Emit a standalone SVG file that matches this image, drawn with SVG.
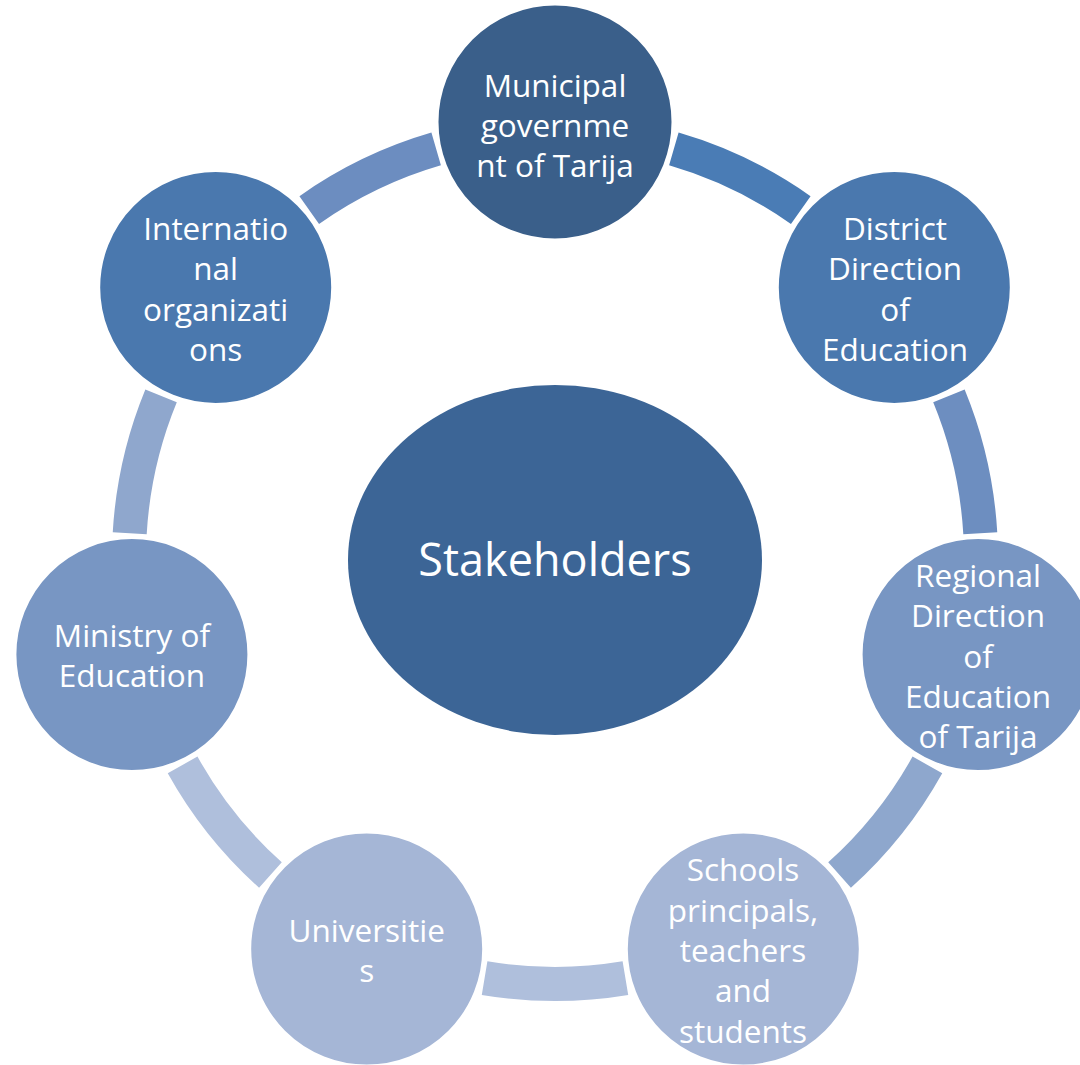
<svg xmlns="http://www.w3.org/2000/svg" width="1080" height="1065" viewBox="0 0 1080 1065">
  <style>
    .arc { fill: none; stroke-width: 34; stroke-linecap: butt; }
    .node { stroke: #FFFFFF; stroke-width: 3; }
    .lbl { font-family: "Open Sans", "Liberation Sans", sans-serif; font-size: 31.5px; fill: #FFFFFF; text-anchor: middle; }
    .center { font-family: "Open Sans", "Liberation Sans", sans-serif; font-size: 45px; fill: #FFFFFF; text-anchor: middle; }
  </style>
  <rect width="1080" height="1065" fill="#FFFFFF"/>
  <g id="connectors">
    <path class="arc" stroke="#4A7CB5" d="M673.85,148.92 A426,426 0 0 1 800.76,210.05"/>
    <path class="arc" stroke="#6D8EC0" d="M948.93,395.86 A426,426 0 0 1 980.28,533.16"/>
    <path class="arc" stroke="#8EA7CD" d="M927.40,764.87 A426,426 0 0 1 839.57,875.01"/>
    <path class="arc" stroke="#AFBFDC" d="M625.41,978.14 A426,426 0 0 1 484.59,978.14"/>
    <path class="arc" stroke="#AFBFDC" d="M270.43,875.01 A426,426 0 0 1 182.60,764.87"/>
    <path class="arc" stroke="#8FA7CD" d="M129.72,533.16 A426,426 0 0 1 161.07,395.86"/>
    <path class="arc" stroke="#6C8DC0" d="M309.24,210.05 A426,426 0 0 1 436.15,148.92"/>
  </g>
  <g id="stakeholders">
    <ellipse cx="555" cy="560" rx="207" ry="175" fill="#3C6596"/>
    <text class="center" x="555" y="576">Stakeholders</text>
  </g>
  <g id="municipal">
    <circle class="node" cx="555" cy="122" r="118" fill="#3A5F8A"/>
    <text class="lbl" x="555" y="96.7">Municipal</text>
    <text class="lbl" x="555" y="137">governme</text>
    <text class="lbl" x="555" y="177.3">nt of Tarija</text>
  </g>
  <g id="district">
    <circle class="node" cx="894.3" cy="287.4" r="117" fill="#4A78AE"/>
    <text class="lbl" x="895" y="240">District</text>
    <text class="lbl" x="895" y="280.3">Direction</text>
    <text class="lbl" x="895" y="320.6">of</text>
    <text class="lbl" x="895" y="360.9">Education</text>
  </g>
  <g id="regional">
    <circle class="node" cx="978.1" cy="654.6" r="117" fill="#7896C3"/>
    <text class="lbl" x="978" y="587">Regional</text>
    <text class="lbl" x="978" y="627.3">Direction</text>
    <text class="lbl" x="978" y="667.6">of</text>
    <text class="lbl" x="978" y="707.9">Education</text>
    <text class="lbl" x="978" y="748.2">of Tarija</text>
  </g>
  <g id="schools">
    <circle class="node" cx="743.3" cy="949" r="117" fill="#A5B6D6"/>
    <text class="lbl" x="743" y="881.4">Schools</text>
    <text class="lbl" x="743" y="921.7">principals,</text>
    <text class="lbl" x="743" y="962">teachers</text>
    <text class="lbl" x="743" y="1002.3">and</text>
    <text class="lbl" x="743" y="1042.6">students</text>
  </g>
  <g id="universities">
    <circle class="node" cx="366.7" cy="949" r="117" fill="#A5B6D6"/>
    <text class="lbl" x="366.7" y="941.9">Universitie</text>
    <text class="lbl" x="366.7" y="982.2">s</text>
  </g>
  <g id="ministry">
    <circle class="node" cx="131.9" cy="654.6" r="117" fill="#7896C3"/>
    <text class="lbl" x="131.9" y="647">Ministry of</text>
    <text class="lbl" x="131.9" y="687.3">Education</text>
  </g>
  <g id="international">
    <circle class="node" cx="215.7" cy="287.4" r="117" fill="#4A78AE"/>
    <text class="lbl" x="215.7" y="240">Internatio</text>
    <text class="lbl" x="215.7" y="280.3">nal</text>
    <text class="lbl" x="215.7" y="320.6">organizati</text>
    <text class="lbl" x="215.7" y="360.9">ons</text>
  </g>
</svg>
